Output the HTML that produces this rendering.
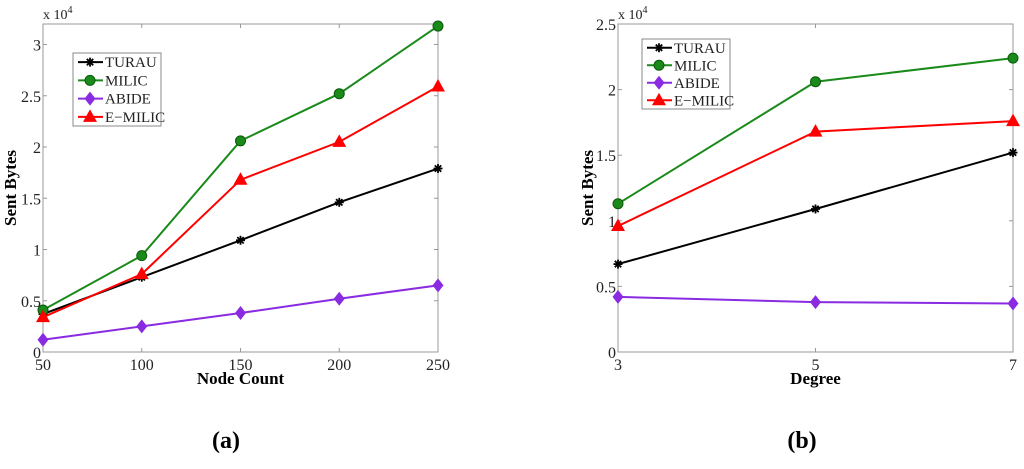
<!DOCTYPE html>
<html><head><meta charset="utf-8"><style>
body{margin:0;background:#fff;width:1024px;height:464px;overflow:hidden}
svg{font-family:"Liberation Serif",serif}
</style></head><body>
<svg id="svg" width="1024" height="464"></svg>
<script>
const catsA=[50,100,150,200,250];
const turauA=[0.37,0.73,1.09,1.46,1.79];
const milicA=[0.41,0.94,2.06,2.52,3.18];
const abideA=[0.12,0.25,0.38,0.52,0.65];
const emilicA=[0.34,0.76,1.68,2.05,2.59];
const yTicksA=[0,0.5,1,1.5,2,2.5,3];
const yTickLabelsA=["0","0.5","1","1.5","2","2.5","3"];
const catsB=[3,5,7];
const turauB=[0.67,1.09,1.52];
const milicB=[1.13,2.06,2.24];
const abideB=[0.42,0.38,0.37];
const emilicB=[0.96,1.68,1.76];
const yTicksB=[0,0.5,1,1.5,2,2.5];
const yTickLabelsB=["0","0.5","1","1.5","2","2.5"];
const legendLabels=["TURAU","MILIC","ABIDE","E\u2212MILIC"];

const NS="http://www.w3.org/2000/svg";
const svg=document.getElementById('svg');
function el(t,a,p){const e=document.createElementNS(NS,t);for(const k in a)e.setAttribute(k,a[k]);(p||svg).appendChild(e);return e;}
function txt(s,a,p){const e=el('text',a,p);e.textContent=s;return e;}
const colors=["#000","#1a8a1a","#8a2be2","#ff0000"];
function marker(g,type,x,y,c){
  if(type==0){for(const ang of [0,45,90,135]){const r=ang*Math.PI/180;el('line',{x1:x-4.5*Math.cos(r),y1:y-4.5*Math.sin(r),x2:x+4.5*Math.cos(r),y2:y+4.5*Math.sin(r),stroke:c,'stroke-width':1.8},g);}}
  else if(type==1)el('circle',{cx:x,cy:y,r:5,fill:c,stroke:'#0a5a0a','stroke-width':1},g);
  else if(type==2)el('polygon',{points:`${x},${y-7} ${x+5.5},${y} ${x},${y+7} ${x-5.5},${y}`,fill:c},g);
  else el('polygon',{points:`${x},${y-7.5} ${x+7},${y+5} ${x-7},${y+5}`,fill:c},g);
}
function chart(id,x0,x1,y0,y1,cats,ymax,yt,ytl,series,xlabel,leg,label,labelX){
  const g=el('g',{});
  
  
  const xs=v=>x0+(v-cats[0])/(cats[cats.length-1]-cats[0])*(x1-x0);
  const ys=v=>y1-v/ymax*(y1-y0);
  el('rect',{x:x0,y:y0,width:x1-x0,height:y1-y0,fill:'none',stroke:'#999','stroke-width':1},g);
  yt.forEach((v,i)=>{const y=ys(v);
    el('line',{x1:x0,y1:y,x2:x0+4,y2:y,stroke:'#999'},g);el('line',{x1:x1,y1:y,x2:x1-4,y2:y,stroke:'#999'},g);
    const t=txt(ytl[i],{x:x0-2,y:y+6,'text-anchor':'end','font-size':16,fill:'#222'},g);
    });
  cats.forEach(c=>{const x=xs(c);
    el('line',{x1:x,y1:y1,x2:x,y2:y1-4,stroke:'#999'},g);el('line',{x1:x,y1:y0,x2:x,y2:y0+4,stroke:'#999'},g);
    const t=txt(String(c),{x:x,y:y1+18,'text-anchor':'middle','font-size':16,fill:'#222'},g);
    });
  const e=txt('x 10',{x:x0,y:y0-5,'font-size':14,fill:'#222'},g);
  el('tspan',{dy:-6,'font-size':10},e).textContent='4';
  
  series.forEach((s,si)=>{
    const sg=el('g',{},g);
    
    
    el('polyline',{points:s.map((v,i)=>xs(cats[i])+','+ys(v)).join(' '),fill:'none',stroke:colors[si],'stroke-width':2},sg);
    s.forEach((v,i)=>marker(sg,si,xs(cats[i]),ys(v),colors[si]));
  });
  const xl=txt(xlabel,{x:(x0+x1)/2,y:y1+32,'text-anchor':'middle','font-size':17,'font-weight':'bold'},g);
  
  const yl=txt('Sent Bytes',{transform:`translate(${x0-(id=='chart-a'?27:25)},${(y0+y1)/2}) rotate(-90)`,'text-anchor':'middle','font-size':17,'font-weight':'bold'},g);
  
  const lg=el('g',{},g);
  
  el('rect',{x:leg[0],y:leg[1],width:leg[2],height:leg[3],fill:'#fff',stroke:'#888'},lg);
  const step=leg[3]/4;
  legendLabels.forEach((l,i)=>{const y=leg[1]+step*(i+0.5);
    el('line',{x1:leg[0]+5,y1:y,x2:leg[0]+30,y2:y,stroke:colors[i],'stroke-width':2},lg);
    marker(lg,i,leg[0]+17,y,colors[i]);
    const t=txt(l,{x:leg[0]+32,y:y+5,'font-size':15,fill:'#222'},lg);
    });
  const cl=txt(label,{x:labelX,y:448,'text-anchor':'middle','font-size':24,'font-weight':'bold'},g);
  
}
chart('chart-a',43,438,24,352,catsA,3.2,yTicksA,yTickLabelsA,[turauA,milicA,abideA,emilicA],'Node Count',[73,53,88,73],'(a)',226);
chart('chart-b',618,1013,24,352,catsB,2.5,yTicksB,yTickLabelsB,[turauB,milicB,abideB,emilicB],'Degree',[642,39,88,70],'(b)',802);
</script>
</body></html>
